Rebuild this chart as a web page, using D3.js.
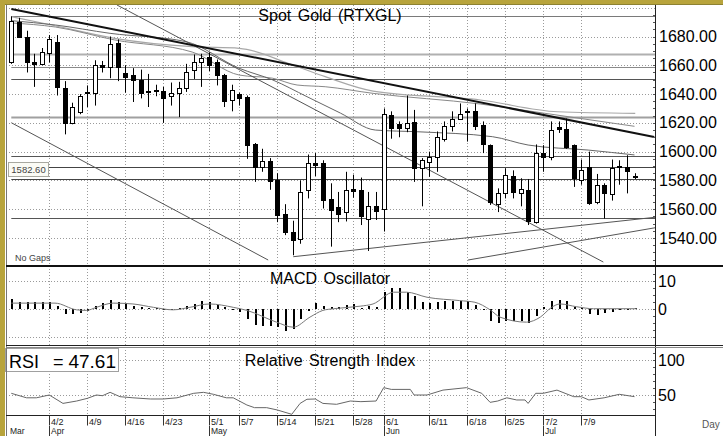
<!DOCTYPE html>
<html>
<head>
<meta charset="utf-8">
<script src="https://cdn.jsdelivr.net/npm/d3@7"></script>
<style>
  body { margin: 0; background: #fff; }
  svg { display: block; }
  text { font-family: "Liberation Sans", Arial, sans-serif; }
</style>
</head>
<body>
<div id="chart"></div>
<script>
// ---- Data ----
// daily candles, 3/26 .. 7/18
const opens  = [1662,1690,1680,1662,1661,1668.5,1676,1644.5,1620,1627.5,1640.5,1641,1660,1659,1675.5,1654.5,1653,1650,1642,1643,1642,1639,1641,1644.5,1656.5,1662.5,1665.5,1662,1653,1636,1640,1638,1605.5,1589.5,1593.5,1580,1556.5,1544.5,1539,1573.5,1592,1592,1567,1561.5,1558,1574,1573.5,1553.5,1562.5,1560,1625.5,1619,1616.5,1620.5,1588.5,1592.5,1596,1609,1617.5,1622.5,1627.5,1628,1618.5,1604.5,1563.5,1571,1583,1571.5,1573.5,1551,1599,1596.5,1617,1615.5,1604.5,1580,1589,1565,1577,1570.5,1589.5,1589.5,1582.8];
const highs  = [1694,1693,1684,1668,1672,1681,1681,1649,1634,1640,1646,1663.5,1663,1680,1678,1660,1658,1657,1654,1646.5,1645,1648,1648.5,1661,1667.5,1668,1669,1664,1654,1646.5,1641,1639,1606,1602,1595.5,1585,1563.5,1552,1580,1598,1599,1594,1578,1572,1586,1584,1582,1572,1572,1630,1628,1621,1639,1629,1595.5,1600,1614,1621,1628,1633.5,1630,1633.5,1621,1605,1574.5,1588.5,1587,1581.5,1581,1605,1604.5,1621,1621,1623,1605,1594.5,1600,1584.5,1578,1594.5,1594,1597.5,1585];
const lows   = [1661,1679,1655,1645,1660,1662,1639,1612,1619,1626,1631,1632,1655,1651,1649,1641,1634.5,1637,1631,1638.5,1620,1632,1624,1641.5,1650.5,1645,1656,1646,1631,1628,1632,1595,1579,1586,1573.5,1551,1542,1528,1536,1567.5,1583,1560.5,1534,1551,1551.5,1568,1549,1531,1552.5,1544.5,1609,1610,1613.5,1579,1562,1582.5,1586,1607,1614,1622,1607,1615,1599,1563,1558,1567.5,1567.5,1562,1549,1550,1586,1594,1613,1602,1575.5,1577,1563,1563.5,1553.5,1566,1577,1571,1581];
const closes = [1691,1680,1662,1661,1669,1678,1645,1620,1631,1638.5,1641.5,1660.5,1658.5,1675,1659,1652,1649.5,1640.5,1642.3,1642,1637,1640.5,1644.5,1655,1662,1665,1660.5,1653,1635.5,1642.5,1637.5,1604.5,1589,1593.5,1579.5,1556,1544.5,1538.5,1572,1592,1590.5,1566.5,1559.5,1557,1573.5,1573,1555,1562,1558.5,1626,1616.5,1616.5,1620,1588.5,1594,1596,1610,1617.5,1623,1626.5,1628,1618,1605,1565,1571.5,1584,1572,1574,1552,1599,1596,1615,1615.5,1603,1582,1587,1564,1577,1571.5,1588.5,1590,1586.5,1582.6];

const dateTicks   = ['4/2','4/9','4/16','4/23','5/1','5/7','5/14','5/21','5/28','6/1','6/11','6/18','6/25','7/2','7/9'];
const dateTickIdx = [5,10,15,20,26,30,35,40,45,49,55,60,65,70,75];
const months      = ['Mar','Apr','May','Jun','Jul'];
const monthIdx    = [0,5,26,49,70];

const priceTicks = [1540,1560,1580,1600,1620,1640,1660,1680];
const priceGrid  = [1540,1560,1580,1600,1620,1640,1660,1680,1700];
const macdTicks  = [0,10];
const macdGrid   = [-10,0,10];
const rsiTicks   = [50,100];

// horizontal levels drawn on the price panel
const levels = [1694.2,1667.5,1659,1650.7,1624.3,1597.3,1589.1,1580.8,1553.7];

// straight trend lines: [index, price] pairs
const trendThick = [[0,1699.1],[84.6,1610.2]];
const trendSteep = [[13.9,1701.9],[77.9,1523.3]];
const trendLower = [[0,1620.1],[33.8,1524.7]];
const supportA   = [[37.1,1527],[84.7,1554.4]];
const supportB   = [[60.1,1524.7],[84.7,1547.1]];

// moving averages, read as knots [index, price]
const maSlow = [[0,1693.8],[5.3,1688],[13.6,1678.7],[23.8,1672.9],[30,1671.8],[37,1660.2],[41.3,1652.1],[47.6,1642.1],[61.7,1635.9],[71.9,1627.7],[82.1,1626.6]];
const maMid  = [[0,1689.4],[5.8,1686.6],[13.6,1677.6],[23.8,1669.2],[30,1653.2],[34.4,1651],[37.6,1646.3],[41.3,1645.1],[47.6,1640.5],[61.7,1633.1],[70,1626.8],[82,1617.6]];
const maFast = [[0,1691],[5.8,1688],[13,1682.2],[23,1676.4],[30,1657.9],[34.4,1649.8],[38.9,1638.2],[43.3,1626.8],[47.9,1615],[53.5,1613.8],[63.3,1610.4],[68,1604.6],[75.9,1601.1],[82,1597.7]];

// MACD histogram, one per candle
const macdHist = [3.5,2.4,2.4,2.4,2.4,2.6,1.0,-1.8,-1.8,-1.6,-0.6,1.2,2.0,3.2,2.6,2.0,1.2,0.6,0.3,0.2,-0.3,-0.3,0.2,1.2,1.8,2.7,2.4,1.6,0.6,-0.5,-1.2,-3.6,-5.6,-6.0,-6.0,-6.5,-7.7,-7.1,-3.6,-0.6,2.0,1.2,0.8,0.6,1.4,1.8,0.3,1.2,0.8,6.0,7.5,7.5,6.0,4.8,2.4,2.0,2.4,2.7,3.0,3.0,2.7,1.5,-0.5,-4.2,-5.1,-4.4,-4.4,-4.4,-5.1,-2.4,0.8,2.7,3.2,2.7,0.8,0.3,-1.8,-2.0,-1.5,-1.0,-0.5,-0.3,0.3];
const macdLine = [[0,2.1],[5.75,2.1],[8.6,-0.3],[9.9,-0.5],[11.2,0.6],[13.4,2.1],[16,1.8],[18.7,0.6],[21.3,-0.3],[23.5,0.6],[26.1,1.8],[29.2,0.6],[31,-0.5],[34.9,-4.7],[37.1,-6.5],[39.3,-2.9],[41,-0.5],[42.4,0.1],[45.9,1.0],[47.6,1.8],[50.3,6.0],[52,6.0],[54.7,4.2],[59,3.0],[61,2.4],[63,-0.3],[64.3,-2.9],[67.8,-4.7],[69.6,-2.9],[71.1,0.6],[72.2,1.8],[74.4,0.8],[76.6,0.1],[82.3,0.1]];

const rsiLine = [[0,52.4],[2,46],[3.3,46],[5,50],[6.8,38],[8.6,41.4],[10,45.2],[11.2,50],[12,49],[13,53.8],[14.3,47.6],[16,46],[18.3,44.3],[20,44.3],[21.8,46],[24,52.4],[25.3,53.8],[26.6,51],[28.3,46],[29.2,46],[31,35.7],[32,31.9],[33.6,31.9],[35,28.6],[36.9,22.4],[38,38],[38.9,43.9],[40,44.3],[41,38],[42.8,36.7],[44.6,41.4],[46,40.5],[48,41.4],[49,60.5],[50,58],[52.5,58],[53,50],[54.7,50],[56.8,57],[59.9,60.5],[61.9,52.4],[63,39.5],[64,41.4],[65.2,46],[66.5,42.9],[67.6,42.9],[68,38],[69,52.4],[70,52.4],[71.8,57],[74,47.6],[75,47.6],[76,42.9],[78,46],[80,51],[82,47.61]];
const lastRsi = 47.61;

// ---- Layout ----
const width = 723, height = 436;
const plotL = 6, plotR = 655;
const pricePanel = { top: 5, bottom: 265 };
const macdPanel  = { top: 267, bottom: 345 };
const rsiPanel   = { top: 347, bottom: 415.5 };
const gold = '#b8a43c';

const svg = d3.select('#chart').append('svg')
  .attr('width', width).attr('height', height);

svg.append('rect').attr('width', width).attr('height', height).attr('fill', '#fff');

// Scales
const x = d3.scaleLinear().domain([0, 82]).range([11.3, 634.5]);
const yP = d3.scaleLinear().domain([1540, 1680]).range([238, 36.5]);
const yM = d3.scaleLinear().domain([-10, 10]).range([337, 281]);
const yR = d3.scaleLinear().domain([50, 100]).range([395, 360]);
const cx = i => Math.round(x(i));

// Clip paths
const defs = svg.append('defs');
[['clipP', pricePanel], ['clipM', macdPanel], ['clipR', rsiPanel]].forEach(([id, p]) => {
  defs.append('clipPath').attr('id', id).append('rect')
    .attr('x', plotL).attr('y', p.top)
    .attr('width', plotR - plotL).attr('height', p.bottom - p.top);
});

// ============================================
// GRID
// ============================================
const grid = svg.append('g').attr('stroke', '#9a9a9a').attr('stroke-dasharray', '1,2').attr('stroke-width', 1);

grid.selectAll('.vgrid').data(dateTickIdx).enter().append('line')
  .attr('x1', d => cx(d) + 0.5).attr('x2', d => cx(d) + 0.5)
  .attr('y1', pricePanel.top).attr('y2', rsiPanel.bottom);

grid.selectAll('.pgrid').data(priceGrid).enter().append('line')
  .attr('x1', plotL).attr('x2', plotR)
  .attr('y1', d => Math.round(yP(d)) + 0.5).attr('y2', d => Math.round(yP(d)) + 0.5);

grid.selectAll('.mgrid').data(macdGrid).enter().append('line')
  .attr('x1', plotL).attr('x2', plotR)
  .attr('y1', d => Math.round(yM(d)) + 0.5).attr('y2', d => Math.round(yM(d)) + 0.5);

grid.selectAll('.rgrid').data(rsiTicks).enter().append('line')
  .attr('x1', plotL).attr('x2', plotR)
  .attr('y1', d => Math.round(yR(d)) + 0.5).attr('y2', d => Math.round(yR(d)) + 0.5);

// ============================================
// PRICE PANEL
// ============================================
const pG = svg.append('g').attr('clip-path', 'url(#clipP)');

const levelColors = ['#7a7a7a','#b0b0b0','#8a8a8a','#555','#a0a0a0','#555','#444','#444','#555'];
const levelWidths = [1, 2, 1, 1, 2, 1, 1, 1, 1];
pG.selectAll('.level').data(levels).enter().append('line')
  .attr('x1', x(0)).attr('x2', plotR)
  .attr('y1', d => Math.round(yP(d)) + 0.5).attr('y2', d => Math.round(yP(d)) + 0.5)
  .attr('stroke', (d, i) => levelColors[i])
  .attr('stroke-width', (d, i) => levelWidths[i]);

const knotLine = d3.line().x(d => x(d[0])).y(d => yP(d[1]));
const smoothLine = d3.line().x(d => x(d[0])).y(d => yP(d[1])).curve(d3.curveMonotoneX);

pG.append('path').datum(maSlow).attr('d', smoothLine).attr('fill', 'none').attr('stroke', '#a8a8a8').attr('stroke-width', 1.2);
pG.append('path').datum(maMid).attr('d', smoothLine).attr('fill', 'none').attr('stroke', '#888').attr('stroke-width', 1);
pG.append('path').datum(maFast).attr('d', smoothLine).attr('fill', 'none').attr('stroke', '#666').attr('stroke-width', 1);

[trendSteep, trendLower, supportA, supportB].forEach(t => {
  pG.append('path').datum(t).attr('d', knotLine)
    .attr('fill', 'none').attr('stroke', '#555').attr('stroke-width', 1);
});
pG.append('path').datum(trendThick).attr('d', knotLine)
  .attr('fill', 'none').attr('stroke', '#111').attr('stroke-width', 2);

// Candles
const candles = closes.map((c, i) => ({ i, o: opens[i], h: highs[i], l: lows[i], c }));

pG.selectAll('.wick').data(candles).enter().append('line')
  .attr('x1', d => cx(d.i) + 0.5).attr('x2', d => cx(d.i) + 0.5)
  .attr('y1', d => yP(d.h)).attr('y2', d => yP(d.l))
  .attr('stroke', '#000').attr('stroke-width', 1);

pG.selectAll('.body').data(candles).enter().append('rect')
  .attr('x', d => cx(d.i) - 1.5)
  .attr('width', 4)
  .attr('y', d => Math.round(yP(Math.max(d.o, d.c))) + 0.5)
  .attr('height', d => Math.max(1, Math.round(yP(Math.min(d.o, d.c))) - Math.round(yP(Math.max(d.o, d.c)))))
  .attr('fill', d => d.c < d.o ? '#000' : '#fff')
  .attr('stroke', '#000').attr('stroke-width', 1);

// Title and small labels
svg.append('text')
  .attr('x', 330).attr('y', 21)
  .attr('text-anchor', 'middle')
  .attr('font-size', '16px').attr('fill', '#000')
  .style('word-spacing', '2px')
  .text('Spot Gold (RTXGL)');

svg.append('rect').attr('x', 8.5).attr('y', 162.5).attr('width', 40).attr('height', 14)
  .attr('fill', '#fbfbf5').attr('stroke', '#a8a8a0');
svg.append('text').attr('x', 28.5).attr('y', 173)
  .attr('text-anchor', 'middle').attr('font-size', '9.5px').attr('fill', '#444')
  .text(closes[closes.length - 1].toFixed(2));

svg.append('text').attr('x', 15).attr('y', 261)
  .attr('font-size', '9px').attr('fill', '#444')
  .text('No Gaps');

// ============================================
// MACD PANEL
// ============================================
const mG = svg.append('g').attr('clip-path', 'url(#clipM)');

mG.selectAll('.macd-bar').data(macdHist).enter().append('rect')
  .attr('x', (d, i) => cx(i))
  .attr('width', 2)
  .attr('y', d => Math.round(yM(Math.max(0, d))))
  .attr('height', d => Math.max(1, Math.abs(Math.round(yM(d)) - Math.round(yM(0)))))
  .attr('fill', '#000');

const macdPath = d3.line().x(d => x(d[0])).y(d => yM(d[1])).curve(d3.curveMonotoneX);
mG.append('path').datum(macdLine).attr('d', macdPath)
  .attr('fill', 'none').attr('stroke', '#777').attr('stroke-width', 1);

svg.append('text')
  .attr('x', 330).attr('y', 284)
  .attr('text-anchor', 'middle')
  .attr('font-size', '16px').attr('fill', '#000')
  .style('word-spacing', '2px')
  .text('MACD Oscillator');

// ============================================
// RSI PANEL
// ============================================
const rG = svg.append('g').attr('clip-path', 'url(#clipR)');
const rsiPath = d3.line().x(d => x(d[0])).y(d => yR(d[1]));
rG.append('path').datum(rsiLine).attr('d', rsiPath)
  .attr('fill', 'none').attr('stroke', '#666').attr('stroke-width', 1);

svg.append('text')
  .attr('x', 330).attr('y', 366)
  .attr('text-anchor', 'middle')
  .attr('font-size', '16px').attr('fill', '#000')
  .style('word-spacing', '2px')
  .text('Relative Strength Index');

svg.append('rect').attr('x', 5.5).attr('y', 348.5).attr('width', 113).attr('height', 23)
  .attr('fill', '#fff').attr('stroke', '#a0a0a0');
svg.append('text').attr('x', 9).attr('y', 368).attr('font-size', '18px').attr('fill', '#000').text('RSI');
svg.append('text').attr('x', 53).attr('y', 368).attr('font-size', '18px').attr('fill', '#000').text('=');
svg.append('text').attr('x', 116).attr('y', 368).attr('text-anchor', 'end')
  .attr('font-size', '19px').attr('fill', '#000').text(lastRsi.toFixed(2));

// ============================================
// FRAMES, SEPARATORS, AXES
// ============================================
svg.append('line').attr('x1', plotL + 0.5).attr('x2', plotL + 0.5)
  .attr('y1', pricePanel.top).attr('y2', height).attr('stroke', '#777');
svg.append('line').attr('x1', plotR + 0.5).attr('x2', plotR + 0.5)
  .attr('y1', pricePanel.top).attr('y2', height).attr('stroke', '#222');

svg.append('rect').attr('x', plotL).attr('y', 265).attr('width', width - plotL).attr('height', 2).attr('fill', '#111');
svg.append('rect').attr('x', plotL).attr('y', 345).attr('width', width - plotL).attr('height', 1).attr('fill', '#222');
svg.append('rect').attr('x', plotL).attr('y', 347).attr('width', width - plotL).attr('height', 1).attr('fill', '#888');
svg.append('line').attr('x1', plotL).attr('x2', plotR + 1)
  .attr('y1', 415.5).attr('y2', 415.5).attr('stroke', '#222');

// Right axes
function styleAxis(g) {
  g.select('.domain').remove();
  g.selectAll('text').attr('font-size', '16px').attr('fill', '#000')
    .attr('font-family', '"Liberation Sans", Arial, sans-serif');
}

svg.append('g')
  .attr('transform', `translate(${plotR},0)`)
  .call(d3.axisRight(yP).tickValues(priceTicks).tickFormat(d3.format('.2f')).tickSize(0).tickPadding(4))
  .call(styleAxis);

svg.append('g')
  .attr('transform', `translate(${plotR},0)`)
  .call(d3.axisRight(yM).tickValues(macdTicks).tickFormat(d3.format('d')).tickSize(0).tickPadding(3))
  .call(styleAxis);

svg.append('g')
  .attr('transform', `translate(${plotR},0)`)
  .call(d3.axisRight(yR).tickValues(rsiTicks).tickFormat(d3.format('d')).tickSize(0).tickPadding(3))
  .call(styleAxis);

// minor ticks along the right axis
const minorP = d3.range(1525, 1700, 5);
svg.append('g').selectAll('line').data(minorP).enter().append('line')
  .attr('x1', plotR - 2).attr('x2', plotR)
  .attr('y1', d => Math.round(yP(d)) + 0.5).attr('y2', d => Math.round(yP(d)) + 0.5)
  .attr('stroke', '#555');
svg.append('g').selectAll('line').data(d3.range(-10, 15, 2.5)).enter().append('line')
  .attr('x1', plotR - 2).attr('x2', plotR)
  .attr('y1', d => Math.round(yM(d)) + 0.5).attr('y2', d => Math.round(yM(d)) + 0.5)
  .attr('stroke', '#555');
svg.append('g').selectAll('line').data(d3.range(30, 120, 10)).enter().append('line')
  .attr('x1', plotR - 2).attr('x2', plotR)
  .attr('y1', d => Math.round(yR(d)) + 0.5).attr('y2', d => Math.round(yR(d)) + 0.5)
  .attr('stroke', '#555');

// Date axis
const xAxisG = svg.append('g')
  .attr('transform', `translate(0,${rsiPanel.bottom})`)
  .call(d3.axisBottom(x).tickValues(dateTickIdx).tickFormat((d, i) => dateTicks[i]).tickSize(10).tickSizeOuter(0));
xAxisG.select('.domain').remove();
xAxisG.selectAll('.tick line').attr('stroke', '#333').attr('transform', 'translate(0.5,0)');
xAxisG.selectAll('.tick')
  .attr('transform', d => `translate(${cx(d)},0)`);
xAxisG.selectAll('text')
  .attr('text-anchor', 'start').attr('x', 2).attr('y', 9.5).attr('dy', 0)
  .attr('font-size', '9px').attr('fill', '#222')
  .attr('font-family', '"Liberation Sans", Arial, sans-serif');

const monthG = svg.append('g');
monthG.selectAll('line').data(monthIdx.slice(1)).enter().append('line')
  .attr('x1', d => cx(d) + 0.5).attr('x2', d => cx(d) + 0.5)
  .attr('y1', 426).attr('y2', height).attr('stroke', '#333');
monthG.selectAll('text').data(months).enter().append('text')
  .attr('x', (d, i) => i === 0 ? 10 : cx(monthIdx[i]) + 2)
  .attr('y', 433.5)
  .attr('font-size', '8.5px').attr('fill', '#222')
  .text(d => d);

svg.append('text').attr('x', 702).attr('y', 428)
  .attr('font-size', '10px').attr('fill', '#555').text('Day');

// Gold frame
svg.append('rect').attr('x', 0).attr('y', 0).attr('width', width).attr('height', 4).attr('fill', gold);
svg.append('rect').attr('x', 0).attr('y', 0).attr('width', 5).attr('height', height).attr('fill', gold);
svg.append('line').attr('x1', 5).attr('x2', width).attr('y1', 4.5).attr('y2', 4.5).attr('stroke', '#8d8232');
</script>
</body>
</html>
